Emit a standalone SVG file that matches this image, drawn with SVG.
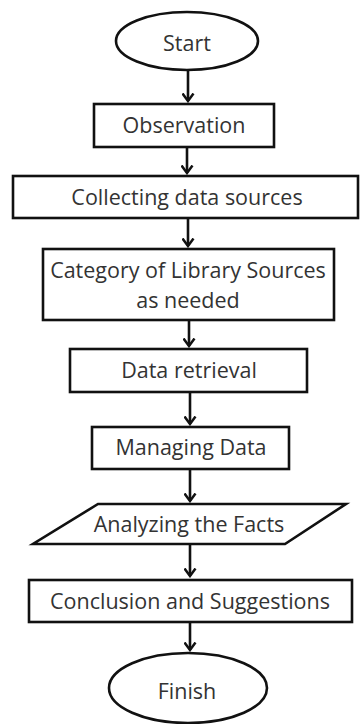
<svg xmlns="http://www.w3.org/2000/svg" width="361" height="724" viewBox="0 0 361 724">
  <style>
    .shape { fill: #ffffff; stroke: #111111; stroke-width: 2.6; }
    .label { font-family: "Open Sans", "Noto Sans", sans-serif; font-size: 21.5px; fill: #333333; text-anchor: middle; dominant-baseline: central; }
    .link { stroke: #111111; stroke-width: 2.6; fill: none; }
  </style>
  <defs>
    <!-- open chevron head, drawn along +x so orient="auto" turns it downward -->
    <marker id="arrowhead" viewBox="0 0 10 13" refX="8.5" refY="6.5" markerWidth="10" markerHeight="13" markerUnits="userSpaceOnUse" orient="auto">
      <path d="M1,1 L8.5,6.5 L1,12" fill="none" stroke="#111111" stroke-width="2.5"/>
    </marker>
  </defs>
  <rect width="361" height="724" fill="#ffffff"/>

  <g id="connectors">
    <line class="link" x1="188" y1="70" x2="188" y2="101" marker-end="url(#arrowhead)"/>
    <line class="link" x1="187" y1="147" x2="187" y2="173" marker-end="url(#arrowhead)"/>
    <line class="link" x1="188" y1="218" x2="188" y2="246" marker-end="url(#arrowhead)"/>
    <line class="link" x1="189" y1="321" x2="189" y2="346" marker-end="url(#arrowhead)"/>
    <line class="link" x1="190" y1="392" x2="190" y2="424" marker-end="url(#arrowhead)"/>
    <line class="link" x1="190" y1="469" x2="190" y2="501" marker-end="url(#arrowhead)"/>
    <line class="link" x1="190" y1="545" x2="190" y2="576" marker-end="url(#arrowhead)"/>
    <line class="link" x1="190" y1="622" x2="190" y2="650" marker-end="url(#arrowhead)"/>
  </g>

  <g id="start">
    <ellipse class="shape" cx="187" cy="41" rx="71" ry="29"/>
    <text class="label" x="187" y="42">Start</text>
  </g>
  <g id="observation">
    <rect class="shape" x="94" y="104" width="180" height="43"/>
    <text class="label" x="184" y="124">Observation</text>
  </g>
  <g id="collecting">
    <rect class="shape" x="13" y="176" width="345" height="42"/>
    <text class="label" x="187" y="196">Collecting data sources</text>
  </g>
  <g id="category">
    <rect class="shape" x="43" y="249" width="291" height="71"/>
    <text class="label" x="188" y="269">Category of Library Sources</text>
    <text class="label" x="188" y="299">as needed</text>
  </g>
  <g id="retrieval">
    <rect class="shape" x="70" y="349" width="237" height="43"/>
    <text class="label" x="189" y="369">Data retrieval</text>
  </g>
  <g id="managing">
    <rect class="shape" x="92" y="427" width="197" height="42"/>
    <text class="label" x="191" y="446">Managing Data</text>
  </g>
  <g id="analyzing">
    <polygon class="shape" points="98,504 346,504 285,544 33,544"/>
    <text class="label" x="189" y="523">Analyzing the Facts</text>
  </g>
  <g id="conclusion">
    <rect class="shape" x="29" y="580" width="323" height="42"/>
    <text class="label" x="190" y="600">Conclusion and Suggestions</text>
  </g>
  <g id="finish">
    <ellipse class="shape" cx="188" cy="688" rx="79" ry="35"/>
    <text class="label" x="187" y="690">Finish</text>
  </g>
</svg>
